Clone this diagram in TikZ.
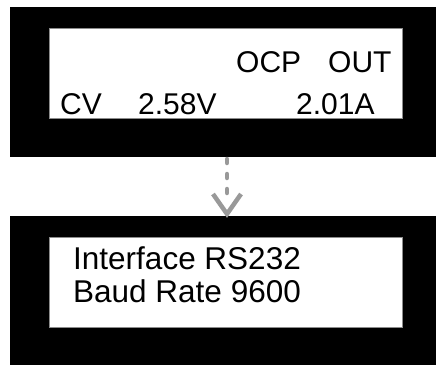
\documentclass[tikz,border=0pt]{standalone}
\usepackage{fontspec}
\setmainfont{Liberation Sans}
\usetikzlibrary{arrows.meta}
\begin{document}
\begin{tikzpicture}[x=1pt,y=1pt,
  frame/.style={fill=black,draw=none},
  screen/.style={fill=white,draw=black!45,line width=0.6pt},
  lcd/.style={anchor=base west,inner sep=0pt,font=\fontsize{30}{36}\selectfont},
  lcdb/.style={lcd,font=\fontsize{31.5}{36}\selectfont},
  flow/.style={draw=black!40,line width=4.5pt,line cap=round,dash pattern=on 4pt off 11pt}]
\useasboundingbox (0,0) rectangle (436,365);
% top display
\path[frame] (10,208) rectangle (436,358);
\path[screen] (49,247) rectangle (402,337);
\coordinate (topout) at (227,206);
\node[lcd] (ocp) at (236,292) {OCP};
\node[lcd] (out) at (328,292) {OUT};
\node[lcd] (cv) at (60,251) {CV};
\node[lcd] (volt) at (138,251) {2.58V};
\node[lcd] (amp) at (296,251) {2.01A};
% bottom display
\path[frame] (10,0) rectangle (436,149);
\path[screen] (49,38) rectangle (402,128);
\coordinate (botin) at (227,151);
\node[lcdb] (iface) at (73,96) {Interface RS232};
\node[lcdb] (baud) at (73,63) {Baud Rate 9600};
% arrow
\draw[flow] (topout) -- ([yshift=14]botin);
\draw[draw=black!40,line width=4.5pt,line join=miter] (213,171) -- (botin) -- (241,171);
\end{tikzpicture}
\end{document}
